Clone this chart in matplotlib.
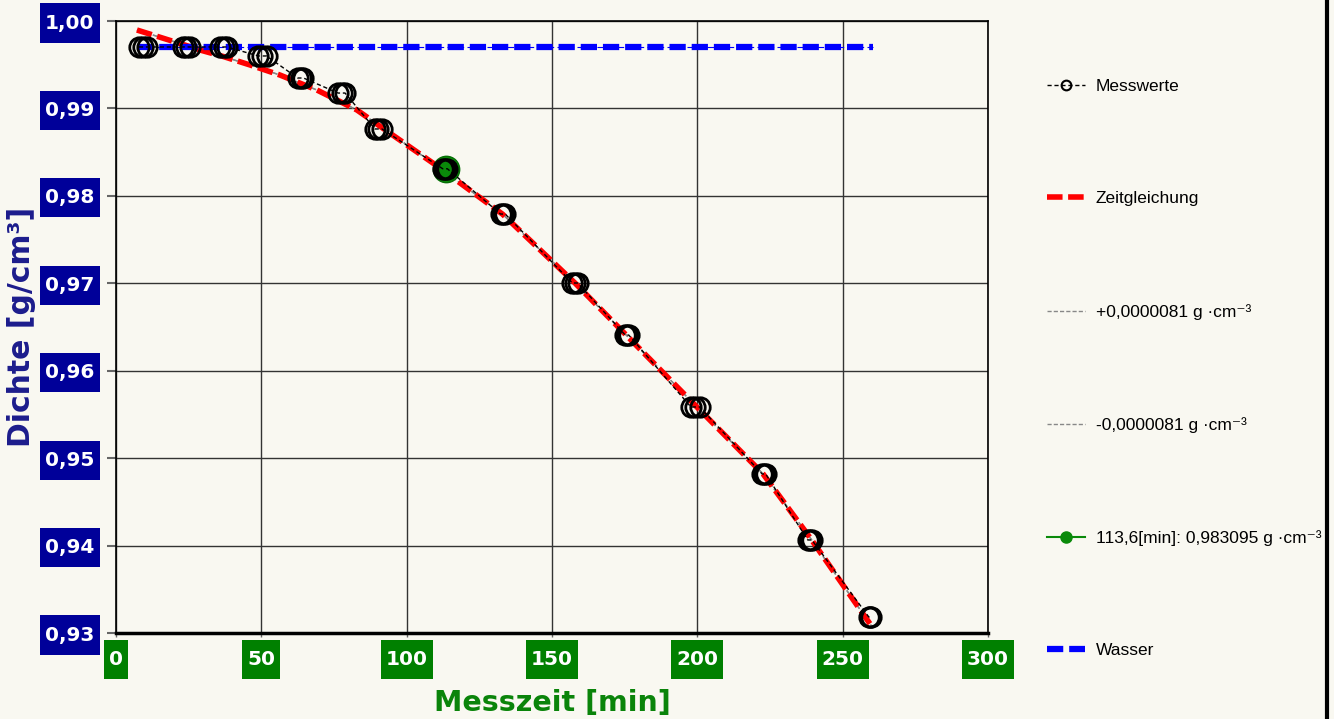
import matplotlib
matplotlib.use('Agg')
import matplotlib.pyplot as plt
from matplotlib.lines import Line2D
from matplotlib.path import Path
from matplotlib.ticker import FuncFormatter

# measured points (clusters of repeated readings)
meas_t = [7.9, 9.3, 10.7, 22.9, 24.1, 25.3, 35.8, 37.0, 38.2, 49.0, 50.4, 51.8,
          62.5, 63.5, 64.5, 76.4, 77.6, 78.8, 89.1, 90.3, 91.5, 112.4, 113.2, 114.0,
          132.3, 133.1, 133.9, 157.0, 157.9, 158.8, 175.2, 175.8, 176.4,
          197.8, 199.3, 200.8, 222.3, 222.9, 223.5, 238.0, 238.7, 239.4,
          259.0, 259.4, 259.8]
meas_rho = [0.99703, 0.99703, 0.99703, 0.99703, 0.99703, 0.99703, 0.99703, 0.99703, 0.99703,
            0.99600, 0.99600, 0.99600, 0.99348, 0.99348, 0.99348, 0.99176, 0.99176, 0.99176,
            0.98765, 0.98765, 0.98765, 0.98310, 0.98310, 0.98310, 0.97792, 0.97792, 0.97792,
            0.97003, 0.97003, 0.97003, 0.96408, 0.96408, 0.96408, 0.95585, 0.95585, 0.95585,
            0.94819, 0.94819, 0.94819, 0.94064, 0.94064, 0.94064, 0.93183, 0.93183, 0.93183]

# fitted time equation
fit_t = [7.2, 23.7, 28.9, 36.8, 46.1, 56.4, 69.1, 82.9, 89.8, 109.0, 133.0, 158.0, 200.0, 222.6, 239.0, 260.4]
fit_rho = [0.99897, 0.99725, 0.99668, 0.99595, 0.99497, 0.99382, 0.99211, 0.98982, 0.98820,
           0.98376, 0.97790, 0.97000, 0.95580, 0.94820, 0.94080, 0.93057]
tol = 0.0000081

# selected point
sel_t = [113.6]
sel_rho = [0.983095]

# water reference
water_t = [7.2, 260.4]
water_rho = [0.99703, 0.99703]

xticks = [0, 50, 100, 150, 200, 250, 300]
yticks = [0.93, 0.94, 0.95, 0.96, 0.97, 0.98, 0.99, 1.00]

bg = '#f9f8f1'
leg_font = ['Liberation Sans', 'DejaVu Sans']


def tall_box(x0, y0, width, height, mutation_size):
    # rectangle with more vertical than horizontal padding
    px = 0.25 * mutation_size
    py = 0.5 * mutation_size
    x0, y0 = x0 - px, y0 - py
    x1, y1 = x0 + width + 2 * px, y0 + height + 2 * py
    return Path([(x0, y0), (x1, y0), (x1, y1), (x0, y1), (x0, y0)], closed=True)


fig = plt.figure(figsize=(13.34, 7.19), dpi=100, facecolor=bg)
ax = fig.add_axes([116/1334, 1-633/719, 872/1334, 612/719], facecolor=bg)

ax.grid(True, color='#333333', linewidth=1.0, zorder=0)
ax.set_axisbelow(True)

ax.plot(fit_t, [r + tol for r in fit_rho], color='#888888', linewidth=1.0, dashes=(4, 2), zorder=2)
ax.plot(fit_t, [r - tol for r in fit_rho], color='#888888', linewidth=1.0, dashes=(4, 2), zorder=2)
ax.plot(fit_t, fit_rho, color='red', linewidth=4.0, dashes=(2.8, 1.0), zorder=3)
ax.plot(water_t, water_rho, color='#0000ff', linewidth=0.8, dashes=(6, 3), zorder=3)
ax.plot(water_t, water_rho, color='#0000ff', linewidth=4.5, dashes=(2.6, 0.95), zorder=3)
ax.plot(sel_t, sel_rho, 'o', color='#0a8a0a', markersize=19, markeredgecolor='#067006', zorder=4)
ax.plot(meas_t, meas_rho, color='black', linewidth=1.0, dashes=(3, 2), zorder=5)
ax.plot(meas_t, meas_rho, 'o', linestyle='none', markersize=14, markerfacecolor='none',
        markeredgecolor='black', markeredgewidth=2.0, zorder=6)

ax.set_xlim(0, 300)
ax.set_ylim(0.93, 1.00)
ax.set_xticks(xticks)
ax.set_yticks(yticks)
ax.yaxis.set_major_formatter(FuncFormatter(lambda v, p: f'{v:.2f}'.replace('.', ',')))

ax.tick_params(axis='y', length=6.5, width=1.5, color='#666666', pad=9)
ax.tick_params(axis='x', length=3, width=1.0, color='#666666', pad=9)
for lab in ax.get_yticklabels():
    lab.set_fontsize(14.5)
    lab.set_fontweight('bold')
    lab.set_color('white')
    lab.set_bbox(dict(boxstyle=tall_box, facecolor='#000099', edgecolor='none'))
for lab in ax.get_xticklabels():
    lab.set_fontsize(14.5)
    lab.set_fontweight('bold')
    lab.set_color('white')
    lab.set_bbox(dict(boxstyle=tall_box, facecolor='#008000', edgecolor='none'))

for s in ['left', 'top', 'right']:
    ax.spines[s].set_color('black')
    ax.spines[s].set_linewidth(1.2)
ax.spines['bottom'].set_color('black')
ax.spines['bottom'].set_linewidth(2.5)

ax.set_xlabel('Messzeit [min]', fontsize=20.5, fontweight='bold', color='#0a840a')
ax.set_ylabel('Dichte [g/cm³]', fontsize=21.5, fontweight='bold', color='#1c1c8c')
ax.xaxis.label.set_va('center')
ax.yaxis.label.set_va('center')
ax.xaxis.set_label_coords(0.5, -0.114)
ax.yaxis.set_label_coords(-0.108, 0.5)

handles = [
    Line2D([], [], color='black', linewidth=1.0, dashes=(3, 2), marker='o', markersize=7,
           markerfacecolor='none', markeredgecolor='black', markeredgewidth=1.5),
    Line2D([], [], color='red', linewidth=4.0, dashes=(2.8, 1.0)),
    Line2D([], [], color='#888888', linewidth=1.0, dashes=(3, 1.5)),
    Line2D([], [], color='#888888', linewidth=1.0, dashes=(3, 1.5)),
    Line2D([], [], color='#0a8a0a', linewidth=1.5, marker='o', markersize=8),
    Line2D([], [], color='#0000ff', linewidth=4.5, dashes=(2.6, 0.95)),
]
labels = ['Messwerte', 'Zeitgleichung', '+0,0000081 g ·cm⁻³', '-0,0000081 g ·cm⁻³',
          '113,6[min]: 0,983095 g ·cm⁻³', 'Wasser']
fig.legend(handles, labels, loc='upper left', bbox_to_anchor=(1040/1334, 1-72/719),
           frameon=False, prop={'family': leg_font, 'size': 12.5}, handlelength=2.2,
           handletextpad=0.6, labelspacing=5.6, borderaxespad=0)

fig.add_artist(Line2D([1327/1334, 1327/1334], [0, 1], color='black', linewidth=3,
                      transform=fig.transFigure))

plt.savefig('out.png', dpi=100, facecolor=bg)
